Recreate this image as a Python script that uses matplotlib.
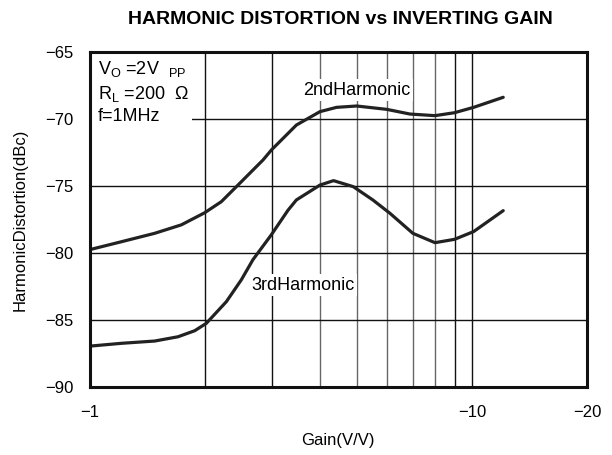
import matplotlib
matplotlib.use("Agg")
import matplotlib.pyplot as plt
from matplotlib.patches import Rectangle
import numpy as np

plt.rcParams['font.family'] = ['Liberation Sans', 'DejaVu Sans']

gain_2nd = [1.008, 1.208, 1.477, 1.734, 1.995, 2.207, 2.44, 2.837, 2.985, 3.47, 4.0, 4.42, 4.99, 5.98, 6.88, 8.0, 9.0, 10.1, 12.07]
hd2_dbc = [-79.72, -79.16, -78.53, -77.9, -77.0, -76.17, -74.93, -73.06, -72.31, -70.45, -69.45, -69.13, -69.03, -69.28, -69.63, -69.75, -69.53, -69.13, -68.38]

gain_3rd = [1.008, 1.208, 1.477, 1.70, 1.88, 2.016, 2.275, 2.49, 2.67, 2.98, 3.3, 3.47, 4.0, 4.34, 4.89, 5.5, 6.1, 7.0, 8.0, 9.0, 10.1, 12.07]
hd3_dbc = [-86.94, -86.74, -86.57, -86.25, -85.8, -85.25, -83.63, -82.0, -80.5, -78.66, -76.8, -76.04, -74.93, -74.6, -75.05, -76.04, -77.04, -78.53, -79.23, -78.98, -78.4, -76.84]

x_ticks = [1, 10, 20]
x_ticklabels = ['\u22121', '\u221210', '\u221220']
y_ticks = [-90, -85, -80, -75, -70, -65]
y_ticklabels = ['\u221290', '\u221285', '\u221280', '\u221275', '\u221270', '\u221265']
grid_gray = [4, 5, 6, 7, 8]
grid_black = [2, 3, 9, 10]

fig = plt.figure(figsize=(6.12, 4.55), dpi=100)
ax = fig.add_axes([90/612, 1-387/455, 497/612, 335/455])
ax.set_xscale('log')
ax.set_xlim(1, 20)
ax.set_ylim(-90, -65)

for g in grid_gray:
    ax.axvline(g, color='#666666', lw=1.0, zorder=1)
for g in grid_black:
    ax.axvline(g, color='#111111', lw=1.0, zorder=1)
for yv in y_ticks[1:-1]:
    ax.axhline(yv, color='#111111', lw=1.0, zorder=1)

ax.plot(gain_2nd, hd2_dbc, color='#222222', lw=2.3, zorder=3, solid_capstyle='round', solid_joinstyle='round')
ax.plot(gain_3rd, hd3_dbc, color='#222222', lw=2.3, zorder=3, solid_capstyle='round', solid_joinstyle='round')

ax.set_xticks(x_ticks)
ax.set_xticklabels(x_ticklabels)
ax.xaxis.set_minor_locator(matplotlib.ticker.NullLocator())
ax.set_yticks(y_ticks)
ax.set_yticklabels(y_ticklabels)
ax.tick_params(axis='both', length=0, labelsize=12)
ax.tick_params(axis='y', pad=12)
ax.tick_params(axis='x', pad=13)
for s in ax.spines.values():
    s.set_linewidth(2.2)
    s.set_color('#111111')
    s.set_zorder(5)

# white area behind the condition text
ax.add_patch(Rectangle((1.012, -70.9), 0.84, 5.9, facecolor='white', edgecolor='none', zorder=2))
cond_lines = ['$\\mathregular{V_O}$ =2V  $\\mathregular{_{PP}}$', '$\\mathregular{R_L}$ =200  \u03a9', 'f=1MHz']
cond_y = [-66.3, -68.15, -69.85]
for t, yv in zip(cond_lines, cond_y):
    ax.text(1.05, yv, t, ha='left', va='center', fontsize=13, zorder=3)

bb = dict(facecolor='white', edgecolor='none', pad=2)
ax.text(5.0, -67.85, '2ndHarmonic', ha='center', va='center', fontsize=13, zorder=2, bbox=bb)
ax.text(3.61, -82.4, '3rdHarmonic', ha='center', va='center', fontsize=13, zorder=2, bbox=bb)

fig.text(340/612, 1-20/455, 'HARMONIC DISTORTION vs INVERTING GAIN', ha='center', va='center',
         fontsize=14, fontweight='bold')
ax.set_xlabel('Gain(V/V)', fontsize=12)
ax.set_ylabel('HarmonicDistortion(dBc)', fontsize=12)
ax.xaxis.set_label_coords((338-90)/497, (387-440)/335)
ax.yaxis.set_label_coords((20-90)/497, 0.5)
ax.xaxis.label.set_va('center')
ax.yaxis.label.set_va('center')

fig.savefig('out.png', dpi=100)
